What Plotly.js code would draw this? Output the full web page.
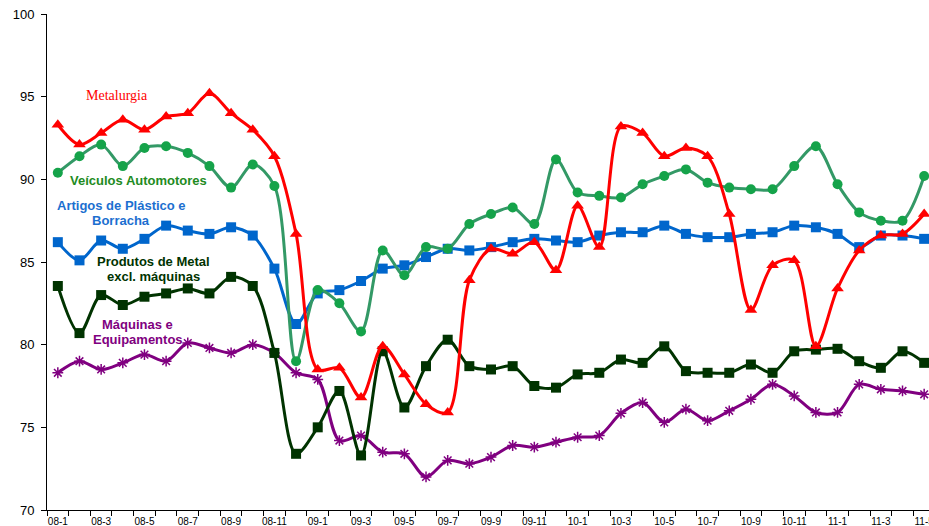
<!DOCTYPE html>
<html>
<head>
<meta charset="utf-8">
<script src="https://cdn.plot.ly/plotly-3.0.1.min.js"></script>
<style>
html,body{margin:0;padding:0;overflow:hidden;background:#fff;}
#chart{width:935px;height:526px;}
</style>
</head>
<body>
<div id="chart"></div>
<script>
const categories = ["08-1","08-2","08-3","08-4","08-5","08-6","08-7","08-8","08-9","08-10","08-11","08-12",
  "09-1","09-2","09-3","09-4","09-5","09-6","09-7","09-8","09-9","09-10","09-11","09-12",
  "10-1","10-2","10-3","10-4","10-5","10-6","10-7","10-8","10-9","10-10","10-11","10-12",
  "11-1","11-2","11-3","11-4","11-5"];

const metalurgia = [93.3,92.1,92.8,93.6,93.0,93.8,94.0,95.2,94.0,93.0,91.4,86.7,
  78.5,78.6,76.8,79.9,78.2,76.4,75.9,83.9,85.8,85.5,86.2,84.5,
  88.4,85.9,93.2,92.8,91.4,91.9,91.4,87.9,82.1,84.8,85.1,79.9,
  83.4,85.7,86.6,86.7,87.9];

const veiculos = [90.4,91.4,92.1,90.8,91.9,92.0,91.6,90.8,89.5,90.9,89.6,79.0,
  83.3,82.5,80.8,85.7,84.2,85.9,85.8,87.3,87.9,88.3,87.3,91.2,
  89.2,89.0,88.9,89.7,90.2,90.6,89.8,89.5,89.4,89.4,90.8,92.0,
  89.7,88.0,87.5,87.5,90.2];

const plastico = [86.2,85.1,86.3,85.8,86.4,87.2,86.9,86.7,87.1,86.6,84.6,81.25,
  83.1,83.3,83.85,84.6,84.8,85.3,85.8,85.7,85.9,86.2,86.4,86.3,
  86.2,86.6,86.8,86.8,87.2,86.7,86.5,86.5,86.7,86.8,87.2,87.1,
  86.7,85.9,86.6,86.6,86.4];

const produtosMetal = [83.55,80.7,83.0,82.4,82.9,83.1,83.4,83.1,84.1,83.55,79.5,73.4,
  75.0,77.2,73.3,79.6,76.2,78.7,80.3,78.7,78.5,78.7,77.5,77.4,
  78.2,78.3,79.1,78.9,79.9,78.4,78.3,78.3,78.8,78.3,79.6,79.7,
  79.75,79.0,78.6,79.6,78.9];

const maquinas = [78.3,79.0,78.5,78.9,79.4,79.0,80.1,79.8,79.5,80.0,79.5,78.3,
  77.9,74.2,74.5,73.5,73.4,72.0,73.0,72.8,73.2,73.9,73.8,74.1,
  74.4,74.5,75.85,76.5,75.3,76.1,75.4,76.0,76.7,77.6,76.9,75.9,
  75.9,77.6,77.3,77.2,77.0];

const yTicks = [70,75,80,85,90,95,100];

const xIdx = categories.map((c,i)=>i);
const labelIdx = xIdx.filter(i=>i%2===0);
const labelText = labelIdx.map(i=>categories[i]);

function tr(name, y, lineColor, markerColor, symbol, size, extraMarker){
  return {
    type:'scatter', mode:'lines+markers', name:name, x:xIdx, y:y,
    line:{color:lineColor, width:3, shape:'spline', smoothing:0.9},
    marker:Object.assign({color:markerColor, symbol:symbol, size:size, line:{width:0}}, extraMarker||{}),
    cliponaxis:false, hoverinfo:'skip'
  };
}

const data = [
  tr('Máquinas e Equipamentos', maquinas, '#800080', '#800080', 'asterisk-open', 9, {line:{color:'#800080', width:1.5}}),
  tr('Produtos de Metal excl. máquinas', produtosMetal, '#003300', '#003300', 'square', 10),
  tr('Artigos de Plástico e Borracha', plastico, '#0066CC', '#0066CC', 'square', 10),
  tr('Veículos Automotores', veiculos, '#339966', '#15A34A', 'circle', 10),
  tr('Metalurgia', metalurgia, '#FF0000', '#FF0000', 'triangle-up', 11)
];

function ann(text, x, y, color, family, bold, size){
  return {text: bold ? '<b>'+text+'</b>' : text, x:x, y:y, xref:'x', yref:'y',
    showarrow:false, xanchor:'center', yanchor:'middle',
    font:{family:family, size:size, color:color}};
}
const sans = 'Liberation Sans, Arial, sans-serif';
const serif = 'Liberation Serif, Times New Roman, serif';

const annotations = [
  ann('Metalurgia', 2.75, 95.05, '#FF0000', serif, false, 14),
  ann('Veículos Automotores', 3.72, 89.9, '#228B22', sans, true, 13),
  ann('Artigos de Plástico e', 2.92, 88.42, '#1C6FD0', sans, true, 13),
  ann('Borracha', 2.92, 87.52, '#1C6FD0', sans, true, 13),
  ann('Produtos de Metal', 4.44, 85.02, '#003300', sans, true, 13),
  ann('excl. máquinas', 4.44, 84.12, '#003300', sans, true, 13),
  ann('Máquinas e', 3.7, 81.25, '#800080', sans, true, 13),
  ann('Equipamentos', 3.7, 80.33, '#800080', sans, true, 13)
];

const layout = {
  width:935, height:526,
  margin:{l:47, r:0, t:14, b:16, pad:0},
  paper_bgcolor:'#fff', plot_bgcolor:'#fff',
  showlegend:false,
  font:{family:sans, color:'#000'},
  xaxis:{
    range:[-0.5, 40.5], fixedrange:true,
    tickmode:'array', tickvals:labelIdx, ticktext:labelText,
    ticks:'outside', ticklen:2, tickcolor:'rgba(0,0,0,0)',
    tickfont:{family:sans, size:10, color:'#000'},
    showgrid:false, zeroline:false,
    showline:true, linecolor:'#000', linewidth:1,
    minor:{ticks:'outside', ticklen:5, tickcolor:'#000', tickwidth:1, tick0:-0.5, dtick:1, showgrid:false}
  },
  yaxis:{
    range:[70,100], fixedrange:true,
    tickmode:'array', tickvals:yTicks, ticktext:yTicks.map(String),
    ticks:'outside', ticklen:5, tickcolor:'#000', tickwidth:1,
    ticklabelstandoff:4,
    tickfont:{family:sans, size:13, color:'#000'},
    showgrid:false, zeroline:false,
    showline:true, linecolor:'#000', linewidth:1
  },
  annotations:annotations
};

Plotly.newPlot('chart', data, layout, {staticPlot:true, displayModeBar:false});
</script>
</body>
</html>
